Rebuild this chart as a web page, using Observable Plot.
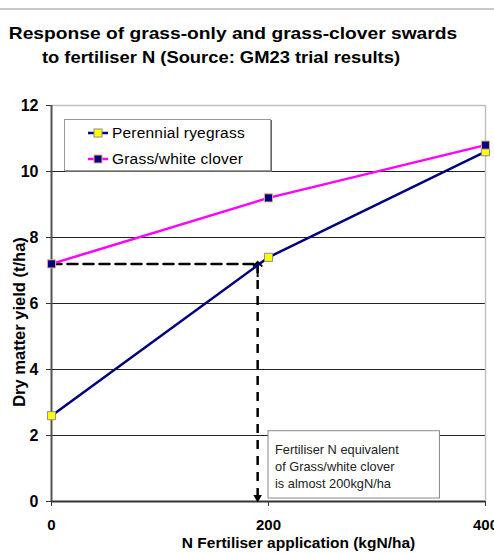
<!DOCTYPE html>
<html>
<head>
<meta charset="utf-8">
<script src="https://cdn.jsdelivr.net/npm/d3@7"></script>
<script src="https://cdn.jsdelivr.net/npm/@observablehq/plot@0.6"></script>
<style>
  html, body { margin: 0; padding: 0; background: #fff; }
  #wrap { position: relative; width: 494px; height: 553px; overflow: hidden; background: #fff;
          font-family: Arial, "Liberation Sans", sans-serif; }
  #topline { position: absolute; left: 0; top: 8px; width: 494px; height: 2px; background: #c8c8c8; }
  .t { position: absolute; top: 0; text-align: center; font-weight: bold; font-size: 17px; color: #000; white-space: nowrap; }
  #chart { position: absolute; left: 0; top: 95px; }
  #legend { position: absolute; left: 64px; top: 119px; width: 205px; height: 50px; background: #fff;
            border: 1px solid #999; box-shadow: 1px 1px 0 #666; }
  .lrow { position: absolute; left: 22px; height: 20px; display: flex; align-items: center; font-size: 15.5px; letter-spacing: 0.2px; color: #000; }
  .lrow svg { margin-right: 3px; }
  #ylabel { position: absolute; left: 18.5px; top: 322px; width: 240px; text-align: center; white-space: nowrap;
            font-weight: bold; font-size: 16.5px; color: #000; transform: translate(-50%, -50%) rotate(-90deg); }
</style>
</head>
<body>
<div id="wrap">
  <div id="topline"></div>
  <div class="t" id="t1"></div>
  <div class="t" id="t2"></div>
  <div id="chart"></div>
  <div id="legend"></div>
  <div id="ylabel"></div>
</div>
<script>
// ---- data ----
const titleLines = ["Response of grass-only and grass-clover swards", "to fertiliser N (Source: GM23 trial results)"];
const xTitle = "N Fertiliser application (kgN/ha)";
const yTitle = "Dry matter yield (t/ha)";
const nRates = [0, 200, 400];
const ryegrassYield = [2.6, 7.4, 10.6];
const cloverYield = [7.2, 9.2, 10.8];
const seriesNames = ["Perennial ryegrass", "Grass/white clover"];
const yTicks = [0, 2, 4, 6, 8, 10, 12];
const xTicks = [0, 200, 400];
const equivN = 190;          // N equivalent of clover (kgN/ha)
const equivYield = 7.2;      // clover yield at 0 N
const noteLines = ["Fertiliser N equivalent", "of Grass/white clover", "is almost 200kgN/ha"];
const noteBox = {x1: 200, x2: 358, y1: 0.09, y2: 2.13};
const noteAnchor = {x: 206, y: 1.1};

const navy = "#000080", magenta = "#ff00ff", yellow = "#ffff00";
const rye = nRates.map((x, i) => ({x, y: ryegrassYield[i]}));
const clo = nRates.map((x, i) => ({x, y: cloverYield[i]}));

const font = "Arial, 'Liberation Sans', sans-serif";

// titles
const t1 = document.getElementById("t1");
t1.textContent = titleLines[0];
Object.assign(t1.style, {left: "233px", top: "24px", transform: "translateX(-50%) scaleX(1.13)"});
const t2 = document.getElementById("t2");
t2.textContent = titleLines[1];
Object.assign(t2.style, {left: "221px", top: "48px", transform: "translateX(-50%) scaleX(1.08)"});
document.getElementById("ylabel").textContent = yTitle;

const chart = Plot.plot({
  width: 494,
  height: 458,
  marginLeft: 51,
  marginRight: 9,
  marginTop: 10,
  marginBottom: 52,
  style: {fontFamily: font, background: "#fff", overflow: "visible"},
  x: {domain: [0, 400]},
  y: {domain: [0, 12]},
  marks: [
    // gridlines & frame
    Plot.ruleY(yTicks.filter(d => d > 0 && d < 12), {stroke: "#222", strokeWidth: 1}),
    Plot.ruleY([12], {stroke: "#c0c0c0", strokeWidth: 1.5}),
    Plot.ruleX([400], {stroke: "#c0c0c0", strokeWidth: 1.5}),
    // annotation box
    Plot.rect([noteBox], {x1: "x1", x2: "x2", y1: "y1", y2: "y2", fill: "#fff", stroke: "#888", strokeWidth: 1}),
    Plot.text([noteLines.join("\n")], {x: noteAnchor.x, y: noteAnchor.y, text: d => d, textAnchor: "start",
      lineAnchor: "middle", lineHeight: 1.33, fontSize: 12.8, fill: "#222"}),
    // axes lines
    Plot.ruleX([0], {stroke: "#555", strokeWidth: 2}),
    Plot.ruleY([0], {stroke: "#333", strokeWidth: 2}),
    Plot.axisY(yTicks, {tickSize: 5, tickPadding: 8, fontSize: 16, fontWeight: "bold", label: null, stroke: "#333", fill: "#000",
      style: {letterSpacing: "1.2px"}}),
    Plot.axisX(xTicks, {tickSize: 5, tickPadding: 13, fontSize: 15, fontWeight: "bold", label: null, stroke: "#333", fill: "#000",
      style: {letterSpacing: "0.8px"}}),
    // dashed guide lines
    Plot.line([[0, equivYield], [equivN, equivYield]], {x: d => d[0], y: d => d[1], stroke: "#000", strokeWidth: 2.5, strokeDasharray: "10,6"}),
    Plot.link([{x: equivN, y1: equivYield, y2: 0}], {x: "x", y1: "y1", y2: "y2", stroke: "#000", strokeWidth: 2.5, strokeDasharray: "9,7"}),
    Plot.link([{x: equivN, y1: equivYield - 0.4, y2: equivYield}], {x: "x", y1: "y1", y2: "y2", stroke: "#000", strokeWidth: 2, markerEnd: "arrow"}),
    Plot.dot([{x: equivN, y: 0}], {x: "x", y: "y", symbol: "triangle", rotate: 180, r: 3.2, fill: "#000", dy: -4}),
    // data lines
    Plot.line(rye, {x: "x", y: "y", stroke: navy, strokeWidth: 2.5}),
    Plot.line(clo, {x: "x", y: "y", stroke: magenta, strokeWidth: 2.5}),
    Plot.dot(rye, {x: "x", y: "y", symbol: "square", r: 4.6, fill: yellow, stroke: "#8c8c8c", strokeWidth: 1}),
    Plot.dot(clo, {x: "x", y: "y", symbol: "square", r: 4.6, fill: navy, stroke: "#e8b080", strokeWidth: 1}),
    // x axis title
    Plot.text([xTitle], {frameAnchor: "bottom", text: d => d, dx: 30, dy: 46,
      fontSize: 15.5, fontWeight: "bold", fill: "#000"})
  ]
});
document.getElementById("chart").appendChild(chart);

// legend
const legend = document.getElementById("legend");
const legendItems = [
  {name: seriesNames[0], line: navy, fill: yellow, edge: "#8c8c8c"},
  {name: seriesNames[1], line: magenta, fill: navy, edge: "#e8b080"}
];
legendItems.forEach((it, i) => {
  const row = document.createElement("div");
  row.className = "lrow";
  row.style.top = (3 + i * 25.5) + "px";
  row.innerHTML = `<svg width="22" height="12"><line x1="1" x2="21" y1="6" y2="6" stroke="${it.line}" stroke-width="2.5"/>` +
    `<rect x="7" y="2" width="8" height="8" fill="${it.fill}" stroke="${it.edge}" stroke-width="1"/></svg>` +
    `<span>${it.name}</span>`;
  legend.appendChild(row);
});
</script>
</body>
</html>
